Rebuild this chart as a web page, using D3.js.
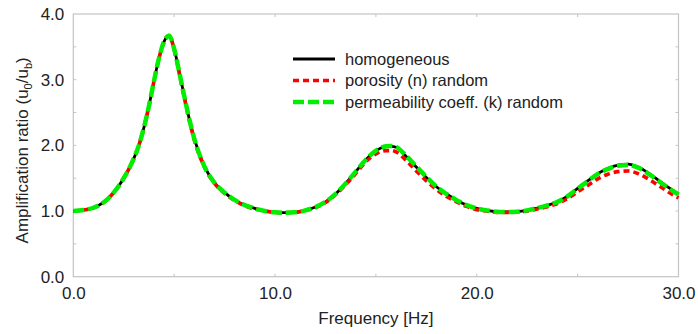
<!DOCTYPE html>
<html>
<head>
<meta charset="utf-8">
<script src="https://cdn.jsdelivr.net/npm/d3@7"></script>
<style>
  body { margin: 0; background: #fff; }
  text { font-family: "Liberation Sans", Arial, sans-serif; fill: #222; }
</style>
</head>
<body>
<script>
// Data
const freq = [0, 0.5, 1, 1.5, 2, 2.5, 3, 3.25, 3.5, 3.75, 4, 4.25, 4.5, 4.75, 5, 5.25, 5.5, 5.75, 6, 6.5,
  7, 7.5, 8, 8.5, 9, 9.5, 10, 10.5, 11, 11.5, 12, 12.5, 13, 13.5, 14, 14.5, 15, 15.5, 15.75, 16,
  16.5, 17, 17.5, 18, 18.5, 19, 19.5, 20, 20.5, 21, 21.5, 22, 22.5, 23, 23.5, 24, 24.5, 25, 25.5, 26,
  26.5, 27, 27.5, 28, 28.5, 29, 29.5, 30];

const homogeneous = [1.00, 1.015, 1.05, 1.13, 1.28, 1.50, 1.80, 2.00, 2.27, 2.60, 2.98, 3.33, 3.58, 3.67, 3.47, 3.12, 2.75, 2.40, 2.10, 1.68,
  1.43, 1.28, 1.17, 1.09, 1.04, 1.00, 0.98, 0.975, 0.98, 1.01, 1.06, 1.14, 1.26, 1.42, 1.60, 1.78, 1.92, 1.98, 1.985, 1.97,
  1.83, 1.67, 1.51, 1.37, 1.26, 1.165, 1.09, 1.04, 1.01, 0.99, 0.985, 0.99, 1.01, 1.045, 1.085, 1.14, 1.225, 1.345, 1.46, 1.57,
  1.65, 1.70, 1.715, 1.67, 1.58, 1.47, 1.36, 1.26];

const porosity = [1.00, 1.015, 1.05, 1.13, 1.28, 1.50, 1.80, 2.00, 2.27, 2.60, 2.98, 3.33, 3.58, 3.67, 3.46, 3.10, 2.73, 2.38, 2.08, 1.67,
  1.42, 1.27, 1.16, 1.08, 1.03, 1.00, 0.98, 0.975, 0.98, 1.01, 1.05, 1.13, 1.25, 1.40, 1.57, 1.75, 1.87, 1.92, 1.92, 1.90,
  1.77, 1.61, 1.46, 1.33, 1.22, 1.14, 1.07, 1.02, 1.00, 0.98, 0.98, 0.985, 1.00, 1.03, 1.065, 1.115, 1.19, 1.29, 1.39, 1.49,
  1.56, 1.60, 1.61, 1.57, 1.49, 1.39, 1.29, 1.20];

const permeability = [1.00, 1.015, 1.05, 1.13, 1.28, 1.50, 1.80, 2.00, 2.27, 2.60, 2.98, 3.33, 3.58, 3.67, 3.47, 3.12, 2.75, 2.40, 2.10, 1.68,
  1.43, 1.28, 1.17, 1.09, 1.04, 1.00, 0.98, 0.975, 0.98, 1.01, 1.06, 1.14, 1.26, 1.42, 1.60, 1.78, 1.92, 1.985, 1.99, 1.975,
  1.84, 1.68, 1.52, 1.37, 1.26, 1.165, 1.09, 1.04, 1.01, 0.99, 0.985, 0.99, 1.01, 1.045, 1.085, 1.14, 1.225, 1.34, 1.455, 1.565,
  1.64, 1.69, 1.70, 1.66, 1.57, 1.46, 1.35, 1.25];

const xTicks = [0, 10, 20, 30];
const yTicks = [0, 1, 2, 3, 4];

const series = [
  { name: "homogeneous", values: homogeneous, color: "#000000", width: 2.8, dash: null },
  { name: "porosity (n) random", values: porosity, color: "#ff0000", width: 3.6, dash: "6,4" },
  { name: "permeability coeff. (k) random", values: permeability, color: "#00ee00", width: 4.5, dash: "11,4" }
];

// set the dimensions and margins of the graph
const W = 698, H = 334;
const margin = { top: 14, right: 19.5, bottom: 57.3, left: 73.3 };
const width = W - margin.left - margin.right,
      height = H - margin.top - margin.bottom;

const svg = d3.select("body").append("svg")
  .attr("width", W)
  .attr("height", H);

const g = svg.append("g")
  .attr("transform", "translate(" + margin.left + "," + margin.top + ")");

const x = d3.scaleLinear().domain([0, 30]).range([0, width]);
const y = d3.scaleLinear().domain([0, 4]).range([height, 0]);

const frameColor = "#c4c4c4";

// frame
g.append("rect")
  .attr("width", width)
  .attr("height", height)
  .attr("fill", "none")
  .attr("stroke", frameColor)
  .attr("stroke-width", 1.2);

// minor ticks pointing inward
const xMinor = d3.range(5, 30, 5);
const yMinor = d3.range(0.5, 4, 0.5);
const tl = 3;
g.append("g").selectAll("line").data(xMinor).enter().append("line")
  .attr("x1", d => x(d)).attr("x2", d => x(d))
  .attr("y1", height).attr("y2", height - tl)
  .attr("stroke", frameColor);
g.append("g").selectAll("line").data(xMinor).enter().append("line")
  .attr("x1", d => x(d)).attr("x2", d => x(d))
  .attr("y1", 0).attr("y2", tl)
  .attr("stroke", frameColor);
g.append("g").selectAll("line").data(yMinor).enter().append("line")
  .attr("x1", 0).attr("x2", tl)
  .attr("y1", d => y(d)).attr("y2", d => y(d))
  .attr("stroke", frameColor);
g.append("g").selectAll("line").data(yMinor).enter().append("line")
  .attr("x1", width).attr("x2", width - tl)
  .attr("y1", d => y(d)).attr("y2", d => y(d))
  .attr("stroke", frameColor);

// axes (labels only)
const xAxis = g.append("g")
  .attr("transform", "translate(0," + height + ")")
  .call(d3.axisBottom(x).tickValues(xTicks).tickSize(0).tickPadding(10).tickFormat(d3.format(".1f")));
const yAxis = g.append("g")
  .call(d3.axisLeft(y).tickValues(yTicks).tickSize(0).tickPadding(9).tickFormat(d3.format(".1f")));
[xAxis, yAxis].forEach(a => {
  a.select(".domain").remove();
  a.selectAll("text")
    .style("font-family", '"Liberation Sans", Arial, sans-serif')
    .style("font-size", "17px")
    .attr("fill", "#222");
});

// axis titles
svg.append("text")
  .attr("x", margin.left + width / 2)
  .attr("y", 324)
  .attr("text-anchor", "middle")
  .style("font-size", "17px")
  .text("Frequency [Hz]");

const yl = svg.append("text")
  .attr("transform", "translate(28," + (margin.top + height / 2 + 5) + ") rotate(-90)")
  .attr("text-anchor", "middle")
  .style("font-size", "17px");
yl.append("tspan").text("Amplification ratio (u");
yl.append("tspan").attr("dy", 4).style("font-size", "11px").text("0");
yl.append("tspan").attr("dy", -4).text("/u");
yl.append("tspan").attr("dy", 4).style("font-size", "11px").text("b");
yl.append("tspan").attr("dy", -4).text(")");

// Draw the line plots
const line = d3.line()
  .x(d => x(d[0]))
  .y(d => y(d[1]))
  .curve(d3.curveMonotoneX);

g.selectAll(".line")
  .data(series)
  .enter()
  .append("path")
    .attr("class", "line")
    .attr("fill", "none")
    .attr("stroke", d => d.color)
    .attr("stroke-width", d => d.width)
    .attr("stroke-dasharray", d => d.dash)
    .attr("d", d => line(freq.map((f, i) => [f, d.values[i]])));

// legend
const legend = svg.append("g").attr("transform", "translate(293,59)");
const rows = legend.selectAll("g").data(series).enter().append("g")
  .attr("transform", (d, i) => "translate(0," + i * 21.5 + ")");
rows.append("line")
  .attr("x1", 0).attr("x2", 42)
  .attr("stroke", d => d.color)
  .attr("stroke-width", d => d.width)
  .attr("stroke-dasharray", d => d.dash);
rows.append("text")
  .attr("x", 52)
  .attr("dy", "0.35em")
  .style("font-size", "16.5px")
  .text(d => d.name);
</script>
</body>
</html>
